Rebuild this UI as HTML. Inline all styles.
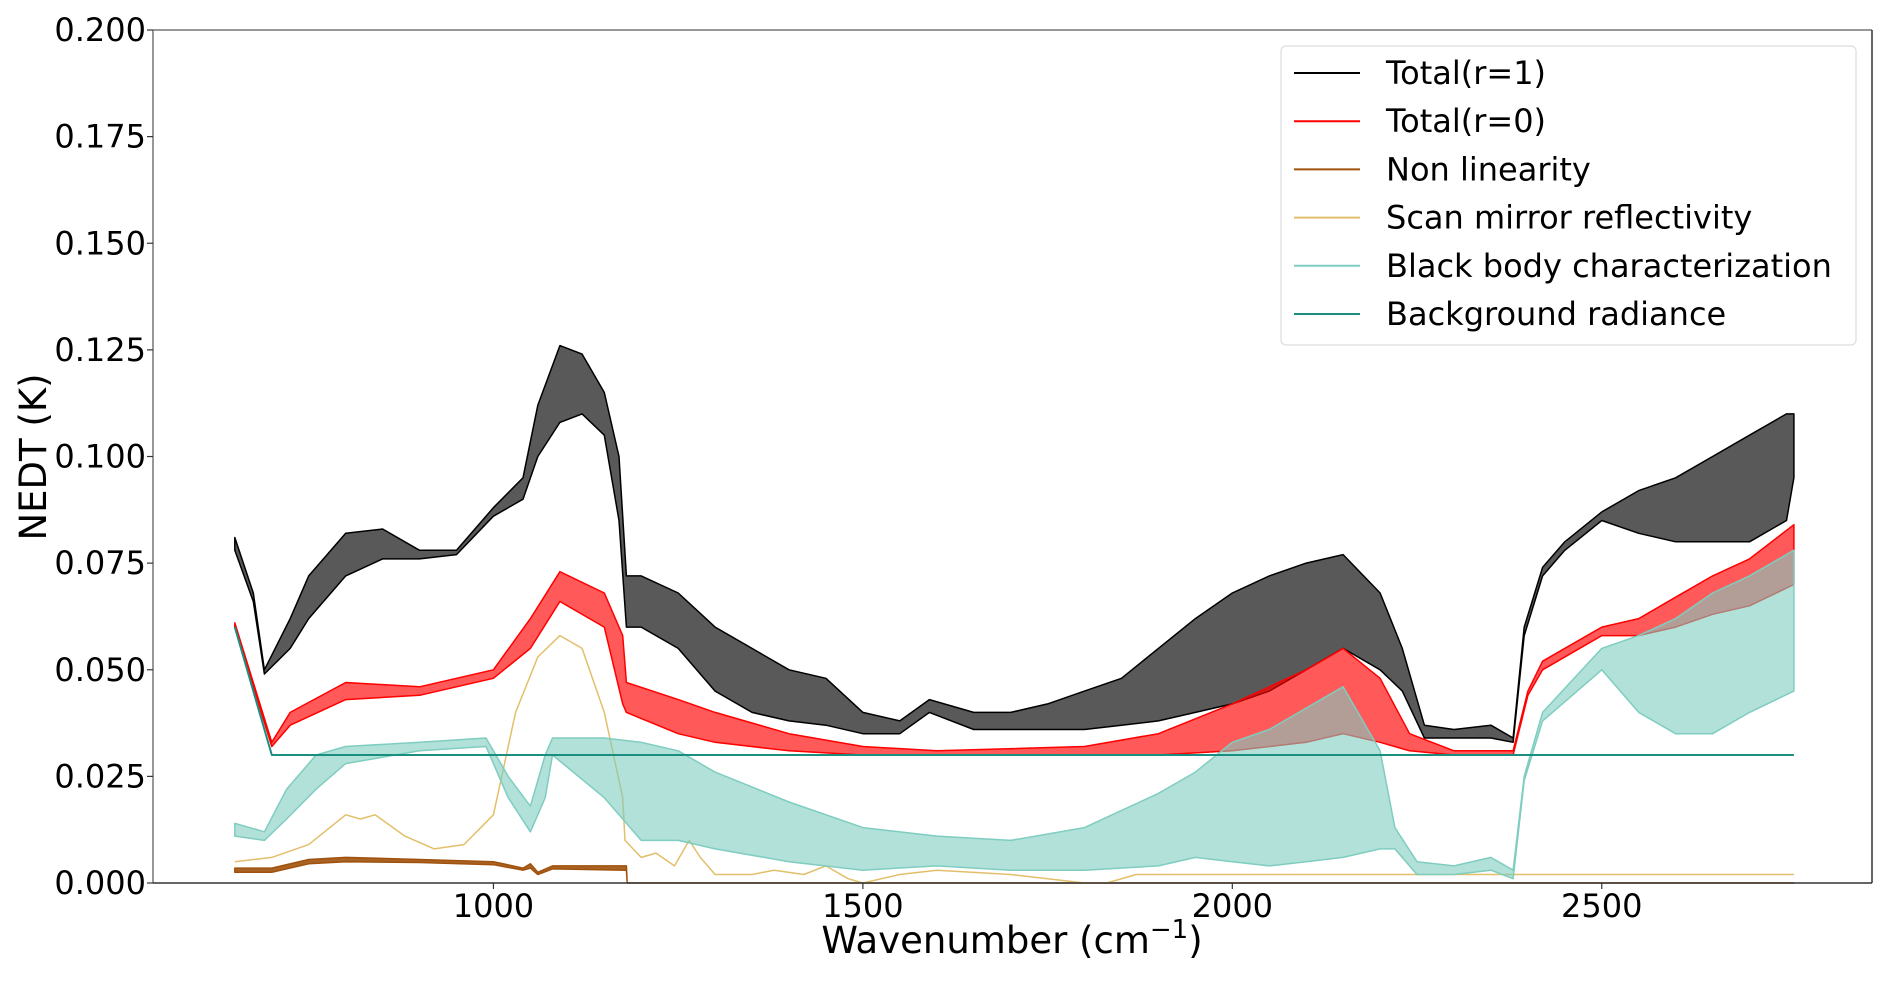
<!DOCTYPE html>
<html><head><meta charset="utf-8"><style>
html,body{margin:0;padding:0;background:#fff;}
svg text{font-family:"DejaVu Sans","Liberation Sans",sans-serif;fill:#000;}
</style></head><body>
<svg id="chart" width="1892" height="979" viewBox="0 0 1892 979" xmlns="http://www.w3.org/2000/svg">
<rect width="1892" height="979" fill="#fff"/>
<g id="plot"></g>
<g id="axes"></g>
<g id="legend"></g>
</svg>
<script>
const xTicks=[1000,1500,2000,2500];
const yTicks=[0,0.025,0.05,0.075,0.1,0.125,0.15,0.175,0.2];
const yTickLabels=["0.000","0.025","0.050","0.075","0.100","0.125","0.150","0.175","0.200"];

const t1X=[650,675,690,725,750,800,850,900,950,1000,1040,1060,1090,1120,1150,1170,1180,1200,1250,1300,1350,1400,1450,1500,1550,1590,1650,1700,1750,1800,1850,1900,1950,2000,2050,2100,2150,2200,2230,2260,2300,2350,2380,2395,2420,2450,2500,2550,2600,2650,2700,2750,2760];
const t1Hi=[0.081,0.068,0.050,0.062,0.072,0.082,0.083,0.078,0.078,0.088,0.095,0.112,0.126,0.124,0.115,0.100,0.072,0.072,0.068,0.060,0.055,0.050,0.048,0.040,0.038,0.043,0.040,0.040,0.042,0.045,0.048,0.055,0.062,0.068,0.072,0.075,0.077,0.068,0.055,0.037,0.036,0.037,0.034,0.060,0.074,0.080,0.087,0.092,0.095,0.100,0.105,0.110,0.110];
const t1Lo=[0.078,0.066,0.049,0.055,0.062,0.072,0.076,0.076,0.077,0.086,0.090,0.100,0.108,0.110,0.105,0.085,0.060,0.060,0.055,0.045,0.040,0.038,0.037,0.035,0.035,0.040,0.036,0.036,0.036,0.036,0.037,0.038,0.040,0.042,0.045,0.050,0.055,0.050,0.045,0.034,0.034,0.034,0.033,0.058,0.072,0.078,0.085,0.082,0.080,0.080,0.080,0.085,0.095];

const t0X=[650,700,725,800,900,1000,1050,1090,1150,1175,1180,1250,1300,1400,1500,1600,1800,1900,2000,2100,2150,2200,2240,2300,2380,2400,2420,2500,2550,2600,2650,2700,2760];
const t0Hi=[0.061,0.033,0.040,0.047,0.046,0.050,0.062,0.073,0.068,0.058,0.047,0.043,0.040,0.035,0.032,0.031,0.032,0.035,0.042,0.050,0.055,0.048,0.035,0.031,0.031,0.045,0.052,0.060,0.062,0.067,0.072,0.076,0.084];
const t0Lo=[0.060,0.032,0.037,0.043,0.044,0.048,0.055,0.066,0.060,0.042,0.040,0.035,0.033,0.031,0.030,0.030,0.030,0.030,0.031,0.033,0.035,0.033,0.031,0.030,0.030,0.044,0.050,0.058,0.058,0.060,0.063,0.065,0.070];

const nlX=[650,700,750,800,900,1000,1040,1050,1060,1080,1180,1181,2760];
const nlHi=[0.0035,0.0035,0.0055,0.006,0.0055,0.005,0.0035,0.0045,0.0025,0.004,0.004,0,0];
const nlLo=[0.0025,0.0025,0.0045,0.005,0.0048,0.0043,0.003,0.0035,0.002,0.0033,0.003,0,0];

const smX=[650,700,750,800,820,840,880,920,960,1000,1030,1060,1090,1120,1150,1175,1178,1200,1220,1245,1265,1280,1300,1350,1380,1420,1450,1480,1500,1550,1600,1700,1750,1800,1830,1870,2760];
const smY=[0.005,0.006,0.009,0.016,0.015,0.016,0.011,0.008,0.009,0.016,0.040,0.053,0.058,0.055,0.040,0.020,0.010,0.006,0.007,0.004,0.010,0.006,0.002,0.002,0.003,0.002,0.004,0.001,0.000,0.002,0.003,0.002,0.001,0.000,0.000,0.002,0.002];

const bbX=[650,690,720,760,800,900,990,1020,1050,1070,1080,1150,1200,1250,1300,1400,1500,1600,1700,1800,1900,1950,2000,2050,2100,2150,2200,2220,2250,2300,2350,2380,2395,2420,2500,2550,2600,2650,2700,2760];
const bbHi=[0.014,0.012,0.022,0.030,0.032,0.033,0.034,0.025,0.018,0.030,0.034,0.034,0.033,0.031,0.026,0.019,0.013,0.011,0.010,0.013,0.021,0.026,0.033,0.036,0.041,0.046,0.031,0.013,0.005,0.004,0.006,0.003,0.025,0.040,0.055,0.058,0.062,0.068,0.072,0.078];
const bbLo=[0.011,0.010,0.015,0.022,0.028,0.031,0.032,0.020,0.012,0.020,0.030,0.020,0.010,0.010,0.008,0.005,0.003,0.004,0.003,0.003,0.004,0.006,0.005,0.004,0.005,0.006,0.008,0.008,0.002,0.002,0.003,0.001,0.024,0.038,0.050,0.040,0.035,0.035,0.040,0.045];

const brX=[650,700,2760];
const brY=[0.060,0.030,0.030];

const L=153,R=1872,T=30,B=883,XMIN=539.25,XMAX=2865.75,YMIN=0,YMAX=0.2;
const sx=v=>L+(v-XMIN)/(XMAX-XMIN)*(R-L);
const sy=v=>B-(v-YMIN)/(YMAX-YMIN)*(B-T);
const NS="http://www.w3.org/2000/svg";
const plot=document.getElementById('plot');
const axes=document.getElementById('axes');
const legend=document.getElementById('legend');
function mk(tag,attrs,parent){const e=document.createElementNS(NS,tag);for(const k in attrs)e.setAttribute(k,attrs[k]);parent.appendChild(e);return e;}

function band(xs,hi,lo,color,name,w,op){
  let d='M'+xs.map((x,i)=>sx(x).toFixed(1)+','+sy(hi[i]).toFixed(1)).join('L');
  for(let i=xs.length-1;i>=0;i--)d+='L'+sx(xs[i]).toFixed(1)+','+sy(lo[i]).toFixed(1);
  d+='Z';
  const p=mk('path',{d:d,fill:color,'fill-opacity':op,stroke:color,'stroke-width':w,'stroke-linejoin':'round'},plot);
  
  
}
function line(xs,ys,color,name,w){
  const d='M'+xs.map((x,i)=>sx(x).toFixed(1)+','+sy(ys[i]).toFixed(1)).join('L');
  const p=mk('path',{d:d,fill:'none',stroke:color,'stroke-width':w,'stroke-linejoin':'round'},plot);
  
  
}
band(t1X,t1Hi,t1Lo,'#000000','series-total-r1',1.5,0.65);
band(t0X,t0Hi,t0Lo,'#ff0000','series-total-r0',1.5,0.65);
band(nlX,nlHi,nlLo,'#a0520d','series-non-linearity',1.5,0.9);
line(smX,smY,'#e2bf6a','series-scan-mirror',1.5);
band(bbX,bbHi,bbLo,'#7fcdc0','series-black-body',1.5,0.6);
line(brX,brY,'#1a8f80','series-background-radiance',2);

const sp=[[L,T,R,T,'#777','spine-top'],[L,T,L,B,'#777','spine-left'],[R,T,R,B,'#333','spine-right'],[L,B,R,B,'#333','spine-bottom']];
sp.forEach(s=>{const e=mk('line',{x1:s[0],y1:s[1],x2:s[2],y2:s[3],stroke:s[4],'stroke-width':1.5},axes);

});

xTicks.forEach(v=>{
  const tk=mk('line',{x1:sx(v),y1:B,x2:sx(v),y2:B+6,stroke:'#333','stroke-width':1.2},axes);
  
  
  const t=mk('text',{x:sx(v),y:917,'text-anchor':'middle','font-size':32},axes);
  t.textContent=String(v);
  
  
});
yTicks.forEach((v,i)=>{
  const tk=mk('line',{x1:L-6,y1:sy(v),x2:L,y2:sy(v),stroke:'#333','stroke-width':1.2},axes);
  
  
  const t=mk('text',{x:146,y:sy(v)+11,'text-anchor':'end','font-size':32},axes);
  t.textContent=yTickLabels[i];
  
  
});
const xl=mk('text',{x:1012,y:953,'text-anchor':'middle','font-size':37},axes);
xl.innerHTML='Wavenumber (cm<tspan dy="-15" font-size="26">−1</tspan><tspan dy="15">)</tspan>';


const yl=mk('text',{x:0,y:0,'text-anchor':'middle','font-size':37,transform:'translate(46,457) rotate(-90)'},axes);
yl.textContent='NEDT (K)';



const lb=mk('rect',{x:1281,y:46,width:575,height:299,rx:5,fill:'#fff','fill-opacity':0.85,stroke:'#ddd','stroke-width':1.2},legend);


const legNames=['Total(r=1)','Total(r=0)','Non linearity','Scan mirror reflectivity','Black body characterization','Background radiance'];
const legColors=['#000000','#ff0000','#a0520d','#e2bf6a','#7fcdc0','#1a8f80'];
legNames.forEach((n,i)=>{
  const y=73+i*48.2;
  const g=mk('g',{},legend);
  
  
  mk('line',{x1:1294,y1:y,x2:1360,y2:y,stroke:legColors[i],'stroke-width':2},g);
  const t=mk('text',{x:1386,y:y+11,'font-size':32},g);
  t.textContent=n;
});
</script>
</body></html>
